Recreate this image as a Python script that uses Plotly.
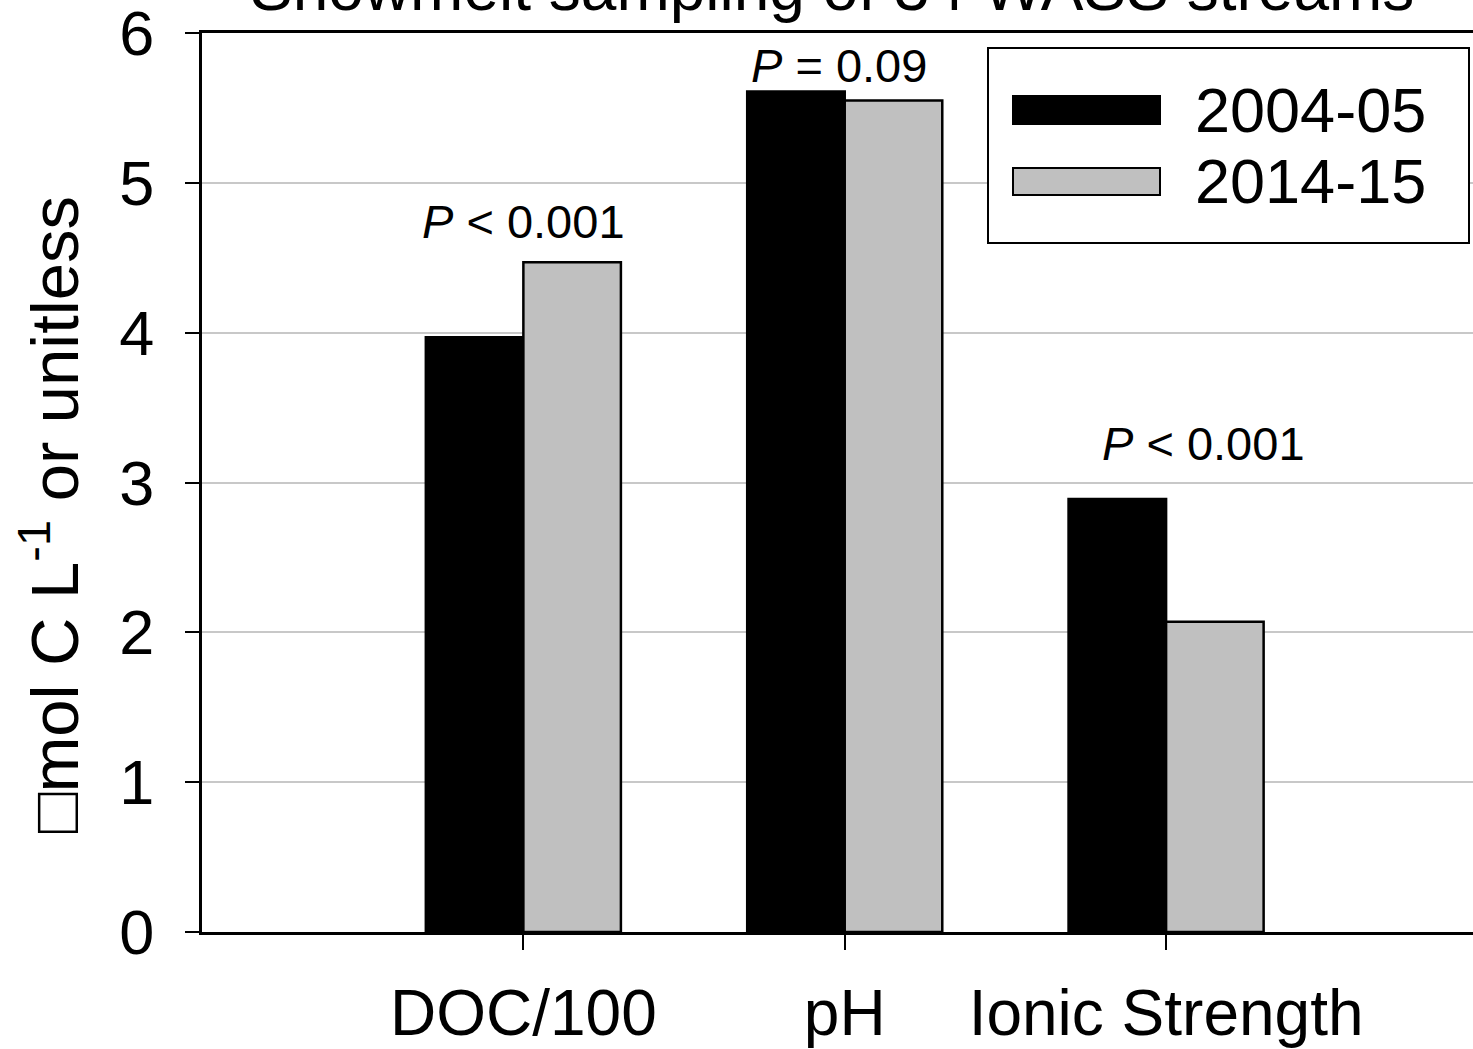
import plotly.graph_objects as go

# ---- data ----
categories = ["DOC/100", "pH", "Ionic Strength"]
series_names = ["2004-05", "2014-15"]
values_2004 = [3.97, 5.61, 2.89]
values_2014 = [4.47, 5.55, 2.07]
p_labels = ["<i>P</i> < 0.001", "<i>P</i> = 0.09", "<i>P</i> < 0.001"]
y_ticks = [0, 1, 2, 3, 4, 5, 6]
title_text = "Snowmelt sampling of 34 WASS streams"
y_title = "□mol C L<sup>-1</sup> or unitless"

FONT = "Liberation Sans, Arial, sans-serif"
W, H = 1473, 1049
L, R, T, B = 202, 0, 33, 117
PW, PH = W - L - R, H - T - B

def px_x(p):
    return (p - L) / PW

def px_y(p):
    return (H - B - p) / PH

colors = ["#000000", "#C0C0C0"]

fig = go.Figure()
for name, vals, col in zip(series_names, [values_2004, values_2014], colors):
    fig.add_trace(go.Bar(
        x=categories, y=vals, name=name,
        marker=dict(color=col, line=dict(color="#000000", width=2.5)),
        showlegend=False,
    ))

# P-value labels
label_xshift = [0, -6, 37]
label_yshift = [22, 7, 37]
for i, (cat, lab) in enumerate(zip(categories, p_labels)):
    top = max(values_2004[i], values_2014[i])
    fig.add_annotation(
        x=cat, y=top, text=lab, showarrow=False,
        xref="x", yref="y", yanchor="bottom",
        xshift=label_xshift[i], yshift=label_yshift[i] - 10,
        font=dict(family=FONT, size=47, color="#000000"),
    )

# Cut-off title
fig.add_annotation(
    x=px_x(832), y=px_y(-12), xref="paper", yref="paper",
    text=title_text, showarrow=False, yanchor="middle", xanchor="center",
    font=dict(family=FONT, size=64, color="#000000"),
)

# Y axis title
fig.add_annotation(
    x=px_x(50), y=px_y(515), xref="paper", yref="paper",
    text=y_title, showarrow=False, textangle=-90,
    xanchor="center", yanchor="middle",
    font=dict(family=FONT, size=67, color="#000000"),
)

# Manual legend
fig.add_shape(type="rect", xref="paper", yref="paper",
              x0=px_x(988), x1=px_x(1469), y0=px_y(243), y1=px_y(48),
              line=dict(color="#000000", width=2), fillcolor="#FFFFFF", layer="above")
sw_y = [(96, 124), (168, 195)]
txt_y = [110, 181]
for name, col, (y0, y1), ty in zip(series_names, colors, sw_y, txt_y):
    fig.add_shape(type="rect", xref="paper", yref="paper",
                  x0=px_x(1013), x1=px_x(1160), y0=px_y(y1), y1=px_y(y0),
                  line=dict(color="#000000", width=2), fillcolor=col, layer="above")
    fig.add_annotation(x=px_x(1193), y=px_y(ty), xref="paper", yref="paper",
                       text=name, showarrow=False, xanchor="left", yanchor="middle",
                       font=dict(family=FONT, size=63, color="#000000"))

fig.update_layout(
    width=W, height=H,
    margin=dict(l=L, r=R, t=T, b=B, pad=0, autoexpand=False),
    paper_bgcolor="#FFFFFF", plot_bgcolor="#FFFFFF",
    barmode="group", bargap=0.393, bargroupgap=0,
    font=dict(family=FONT, size=63, color="#000000"),
    showlegend=False,
)
fig.update_xaxes(
    range=[-1, 2.955], showgrid=False, zeroline=False, automargin=False,
    showline=True, linecolor="#000000", linewidth=3, mirror=True,
    ticks="outside", ticklen=15, tickwidth=2, tickcolor="#000000",
    ticklabelstandoff=8, ticklabeloverflow="allow",
    tickfont=dict(family=FONT, size=64, color="#000000"),
)
fig.update_yaxes(
    range=[0, 6.0001], tickvals=y_ticks, showgrid=True, gridcolor="#C8C8C8", gridwidth=2,
    zeroline=False, showline=True, linecolor="#000000", linewidth=3, automargin=False,
    ticks="outside", ticklen=14, tickwidth=2, tickcolor="#000000",
    ticklabelstandoff=18, ticklabeloverflow="allow",
    tickfont=dict(family=FONT, size=63, color="#000000"),
)

fig.write_html("out.html")
